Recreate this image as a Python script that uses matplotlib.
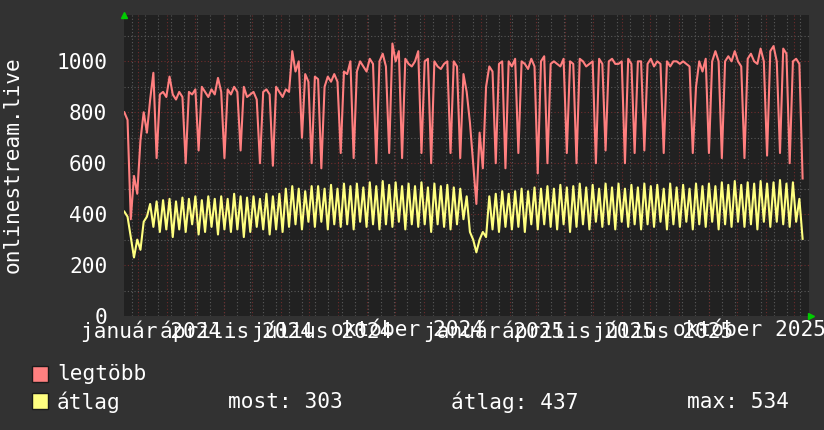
import matplotlib
matplotlib.use("Agg")
import matplotlib.pyplot as plt
from matplotlib.patches import Rectangle
import numpy as np

# napi minta kb. 3.45 naponta, 2023-12-17-tol
legtobb = [800, 770, 380, 550, 480, 690, 800, 720, 850, 955,
           620, 870, 880, 860, 940, 870, 850, 880, 860, 600,
           880, 870, 890, 650, 900, 880, 860, 890, 870, 935,
           880, 620, 890, 870, 900, 880, 650, 900, 860, 870,
           880, 850, 600, 880, 890, 870, 590, 900, 880, 860,
           890, 880, 1040, 960, 1000, 700, 950, 920, 600, 940,
           930, 580, 900, 940, 920, 950, 920, 640, 960, 950,
           1000, 620, 960, 1000, 980, 960, 1010, 990, 600, 1000,
           1030, 980, 640, 1070, 1000, 1040, 620, 1010, 990, 980,
           1000, 1040, 640, 1000, 1010, 600, 1000, 980, 970, 990,
           1000, 640, 1000, 980, 620, 950, 880, 760, 600, 440,
           720, 580, 900, 980, 960, 600, 990, 1000, 580, 1000,
           980, 1010, 640, 1000, 990, 970, 1010, 980, 560, 1000,
           1020, 600, 990, 1000, 990, 980, 1010, 640, 1000, 990,
           600, 1010, 1000, 980, 990, 1000, 600, 1010, 990, 650,
           1000, 1010, 990, 990, 1000, 600, 1010, 990, 640, 1000,
           1000, 650, 990, 1010, 980, 1000, 990, 640, 1000, 980,
           1000, 1000, 990, 1000, 990, 980, 640, 900, 1000, 960,
           1010, 640, 1000, 1040, 1000, 620, 1000, 1020, 1000, 1040,
           1000, 980, 620, 1010, 1030, 1000, 990, 1050, 1000, 630,
           1040, 1060, 1000, 640, 1050, 1030, 600, 1000, 1010, 990, 540]

atlag = [410, 390, 310, 230, 300, 260, 370, 390, 440, 350,
         450, 330, 455, 340, 460, 310, 450, 340, 465, 330,
         460, 360, 470, 320, 455, 330, 470, 350, 460, 320,
         470, 340, 460, 330, 480, 340, 470, 310, 465, 330,
         470, 350, 460, 340, 480, 320, 470, 340, 480, 330,
         500, 350, 510, 360, 500, 340, 490, 370, 510, 350,
         510, 370, 500, 340, 515, 360, 500, 350, 520, 360,
         510, 340, 520, 370, 505, 350, 525, 360, 510, 340,
         530, 360, 515, 350, 525, 370, 510, 340, 520, 360,
         510, 350, 525, 360, 505, 330, 520, 360, 510, 350,
         515, 340, 505, 360, 500, 380, 470, 330, 300, 250,
         300, 330, 310, 470, 340, 480, 330, 490, 350, 480,
         340, 490, 350, 500, 330, 490, 360, 505, 340, 500,
         360, 510, 350, 500, 340, 515, 360, 505, 330, 510,
         350, 520, 360, 505, 340, 515, 370, 500, 350, 520,
         360, 505, 340, 520, 370, 500, 350, 515, 360, 505,
         340, 520, 360, 510, 350, 515, 370, 500, 340, 520,
         360, 505, 350, 515, 370, 500, 340, 520, 360, 510,
         350, 520, 370, 510, 340, 525, 360, 515, 350, 530,
         370, 515, 350, 525, 360, 520, 340, 530, 370, 520,
         350, 525, 370, 534, 360, 520, 350, 525, 370, 460, 303]

tick_labels = ["január 2024", "április 2024", "július 2024", "október 2024",
               "január 2025", "április 2025", "július 2025", "október 2025"]
tick_months = ["2024-01", "2024-04", "2024-07", "2024-10",
               "2025-01", "2025-04", "2025-07", "2025-10"]
most, atl, mx = 303, 437, 534

BG = "#323232"
CANVAS = "#212121"
FONT = "DejaVu Sans Mono"
FS = 15.2


def dt(v):
    return v.astype("datetime64[ms]").astype(object)


start = np.datetime64("2023-12-17T00:00")
step = np.timedelta64(int(3.45 * 24 * 60), "m")
t = dt(start + np.arange(len(legtobb)) * step)

fig = plt.figure(figsize=(8.24, 4.30), dpi=100, facecolor=BG)
ax = fig.add_axes([124 / 824, 1 - 316 / 430, (809 - 124) / 824, (316 - 15) / 430])
ax.set_facecolor(CANVAS)

ax.set_xlim(dt(np.datetime64("2023-12-16T16:00")), dt(np.datetime64("2025-12-17T08:00")))
ax.set_ylim(0, 1182)

# racsvonalak
for v in range(100, 1200, 100):
    if v % 200 == 0:
        ax.axhline(v, color="#6e2c2c", lw=0.8, ls=(0, (1, 2)), zorder=1)
    else:
        ax.axhline(v, color="#5a5a5a", lw=0.8, ls=(0, (1, 2)), zorder=1)
weeks = np.arange(np.datetime64("2023-12-25"), np.datetime64("2025-12-20"), np.timedelta64(14, "D"))
for w in weeks:
    ax.axvline(dt(w), color="#5a5a5a", lw=0.8, ls=(0, (1, 2)), zorder=1)
months = np.arange(np.datetime64("2024-01"), np.datetime64("2026-01"), np.timedelta64(1, "M"))
for m in months:
    ax.axvline(dt(m.astype("datetime64[D]")), color="#6e2c2c", lw=0.8, ls=(0, (1, 2)), zorder=1)

ax.plot(t, legtobb, color="#ff7f7f", lw=1.5, zorder=3)
ax.plot(t, atlag, color="#ffff80", lw=1.5, zorder=3)

for s in ax.spines.values():
    s.set_visible(False)

pos = [dt(np.datetime64(m).astype("datetime64[D]") + np.timedelta64(14, "D")) for m in tick_months]
ax.set_xticks(pos)
ax.set_xticklabels(tick_labels)
ax.set_yticks(range(0, 1200, 200))
ax.tick_params(axis="x", length=0, pad=3, colors="white", labelsize=FS)
ax.tick_params(axis="y", length=0, pad=12, colors="white", labelsize=FS)
for lab in ax.get_xticklabels() + ax.get_yticklabels():
    lab.set_fontfamily(FONT)

# zold nyilak
ax.plot([0], [1.0], marker="^", color="#00cc00", ms=5, transform=ax.transAxes, clip_on=False, zorder=5)
ax.plot([1.003], [0.0], marker=">", color="#00cc00", ms=5, transform=ax.transAxes, clip_on=False, zorder=5)

fig.text(13 / 824, 1 - 165 / 430, "onlinestream.live", rotation=90, ha="center", va="center",
         color="white", fontsize=FS, family=FONT)


# jelmagyarazat
def px(x, y):
    return x / 824, 1 - y / 430


for y, col in [(382, "#ff8080"), (409, "#ffff80")]:
    fig.patches.append(Rectangle(px(32, y), 16 / 824, 16 / 430, transform=fig.transFigure,
                                 facecolor=col, edgecolor="#1a1a1a", lw=1))
fig.text(*px(57, 374), "legtöbb", color="white", fontsize=FS, family=FONT, va="center")
fig.text(*px(57, 402), "átlag", color="white", fontsize=FS, family=FONT, va="center")
fig.text(*px(228, 402), "most: %d" % most, color="white", fontsize=FS, family=FONT, va="center")
fig.text(*px(451, 402), "átlag: %d" % atl, color="white", fontsize=FS, family=FONT, va="center")
fig.text(*px(687, 402), "max: %d" % mx, color="white", fontsize=FS, family=FONT, va="center")

fig.savefig("out.png", dpi=100, facecolor=BG)
